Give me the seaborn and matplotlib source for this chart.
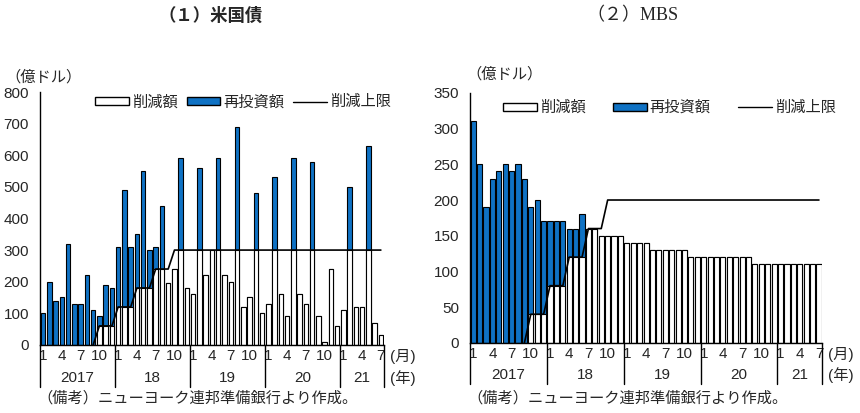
'''FRB balance sheet runoff: Treasuries and MBS, reduction vs reinvestment.'''
import numpy as np
import pandas as pd

import seaborn as sns
import matplotlib.pyplot as plt
import matplotlib.transforms as mtransforms
from matplotlib.patches import Patch
from matplotlib.lines import Line2D

# ---- data (億ドル), monthly Jan 2017 - Jul 2021 ----
years = [2017, 2018, 2019, 2020, 2021]
year_labels = ['2017', '18', '19', '20', '21']
month_ticks = [1, 4, 7, 10]

# maturing amount (= reduction + reinvestment)
tsy_total = [100, 200, 140, 150, 320, 130, 130, 220, 110, 90, 190, 180,
             310, 490, 310, 350, 550, 300, 310, 440, 195, 240, 590, 180,
             160, 560, 220, 300, 590, 220, 200, 690, 120, 150, 480, 100,
             130, 530, 160, 90, 590, 160, 130, 580, 90, 10, 240, 60,
             110, 500, 120, 120, 630, 70, 30]
# reduction cap (None = no cap line yet)
tsy_cap = [None, None, None, None, None, None, None, None, 0, 60, 60, 60,
           120, 120, 120, 180, 180, 180, 240, 240, 240, 300, 300, 300,
           300, 300, 300, 300, 300, 300, 300, 300, 300, 300, 300, 300,
           300, 300, 300, 300, 300, 300, 300, 300, 300, 300, 300, 300,
           300, 300, 300, 300, 300, 300, 300]

mbs_total = [310, 250, 190, 230, 240, 250, 240, 250, 230, 190, 200, 170,
             170, 170, 170, 160, 160, 180, 160, 160, 150, 150, 150, 150,
             140, 140, 140, 140, 130, 130, 130, 130, 130, 130, 120, 120,
             120, 120, 120, 120, 120, 120, 120, 120, 110, 110, 110, 110,
             110, 110, 110, 110, 110, 110, 110]
mbs_cap = [None, None, None, None, None, None, None, None, 0, 40, 40, 40,
           80, 80, 80, 120, 120, 120, 160, 160, 160, 200, 200, 200,
           200, 200, 200, 200, 200, 200, 200, 200, 200, 200, 200, 200,
           200, 200, 200, 200, 200, 200, 200, 200, 200, 200, 200, 200,
           200, 200, 200, 200, 200, 200, 200]

BLUE = '#0f72c4'
FS = 11

sns.set_theme(style='white')
plt.rcParams['font.family'] = ['Liberation Sans', 'Noto Sans CJK JP']
plt.rcParams['axes.unicode_minus'] = False


def make_frame(total, cap):
    df = pd.DataFrame({'total': total,
                       'cap': [np.nan if c is None else c for c in cap]})
    df['idx'] = np.arange(len(df))
    df['month'] = [m for y in years for m in range(1, 13)][:len(df)]
    df['year'] = [y for y in years for m in range(1, 13)][:len(df)]
    df['reduction'] = np.minimum(df['total'], df['cap'].fillna(0))
    return df


def draw_panel(ax, df, ymax, ystep, bar_w, unit_x, unit_y, leg_x, leg_y, colsp):
    # blue bar = whole maturing amount, white bar over it = reduction part
    sns.barplot(data=df, x='idx', y='total', color=BLUE, saturation=1,
                width=bar_w, edgecolor='black', linewidth=0.8, ax=ax)
    sns.barplot(data=df, x='idx', y='reduction', color='white', saturation=1,
                width=bar_w, edgecolor='black', linewidth=0.8, ax=ax)
    sns.lineplot(data=df.dropna(subset=['cap']), x='idx', y='cap',
                 color='black', linewidth=1.2, ax=ax)

    n = len(df)
    ax.set_xlim(-0.5, n - 0.5)
    ax.set_ylim(0, ymax)
    ax.set_yticks(np.arange(0, ymax + 1, ystep))
    ax.tick_params(axis='y', direction='in', length=3, labelsize=FS, pad=8)

    sel = df[df['month'].isin(month_ticks)]
    ax.set_xticks(sel['idx'])
    ax.set_xticklabels(sel['month'].astype(str), fontsize=FS)
    ax.tick_params(axis='x', length=0, pad=3)
    ax.set_xlabel('')
    ax.set_ylabel('')

    for s in ['top', 'right']:
        ax.spines[s].set_visible(False)
    for s in ['left', 'bottom']:
        ax.spines[s].set_color('black')
        ax.spines[s].set_linewidth(1)

    trans = mtransforms.blended_transform_factory(ax.transData, ax.transAxes)
    # year separators and year labels below the month labels
    bounds = [df.index[df['year'] == y][0] - 0.5 for y in years] + [n - 0.5]
    for b in bounds:
        ax.plot([b, b], [0, -0.165], transform=trans, color='black',
                linewidth=1, clip_on=False)
    for y, lab in zip(years, year_labels):
        sub = df[df['year'] == y]
        mid = (sub['idx'].min() + sub['idx'].max()) / 2
        ax.text(mid, -0.13, lab, transform=trans, ha='center', va='center',
                fontsize=FS)
    ax.text(n + 0.4, -0.045, '(月)', transform=trans, ha='left', va='center',
            fontsize=FS)
    ax.text(n + 0.4, -0.13, '(年)', transform=trans, ha='left', va='center',
            fontsize=FS)
    ax.text(unit_x, unit_y, '（億ドル）', transform=ax.transAxes, ha='left',
            va='center', fontsize=FS)

    handles = [Patch(facecolor='white', edgecolor='black', linewidth=1),
               Patch(facecolor=BLUE, edgecolor='black', linewidth=1),
               Line2D([], [], color='black', linewidth=1)]
    ax.legend(handles, ['削減額', '再投資額', '削減上限'], ncol=3,
              loc='center left', bbox_to_anchor=(leg_x, leg_y), frameon=False,
              fontsize=FS, handlelength=2.2, handleheight=0.45,
              handletextpad=0.2, columnspacing=colsp, borderaxespad=0,
              borderpad=0)


fig = plt.figure(figsize=(8.6, 4.13), dpi=100)
ax1 = fig.add_axes([0.0465, 0.165, 0.40, 0.612])
ax2 = fig.add_axes([0.5465, 0.170, 0.4095, 0.605])

tsy = make_frame(tsy_total, tsy_cap)
mbs = make_frame(mbs_total, mbs_cap)
draw_panel(ax1, tsy, 800, 100, 0.72, -0.10, 1.06, 0.16, 0.96, 0.6)
draw_panel(ax2, mbs, 350, 50, 0.8, -0.01, 1.075, 0.094, 0.94, 1.8)

fig.text(0.245, 0.962, '（１）米国債', ha='center', va='center', fontsize=12.5,
         fontweight='bold', family=['Noto Sans CJK JP'])
fig.text(0.735, 0.962, '（２）MBS', ha='center', va='center', fontsize=13,
         family=['Liberation Serif', 'Noto Sans CJK JP'])
fig.text(0.044, 0.036, '（備考）ニューヨーク連邦準備銀行より作成。', ha='left',
         va='center', fontsize=FS, family=['Noto Sans CJK JP'])
fig.text(0.544, 0.036, '（備考）ニューヨーク連邦準備銀行より作成。', ha='left',
         va='center', fontsize=FS, family=['Noto Sans CJK JP'])

fig.savefig('out.png', dpi=100)
